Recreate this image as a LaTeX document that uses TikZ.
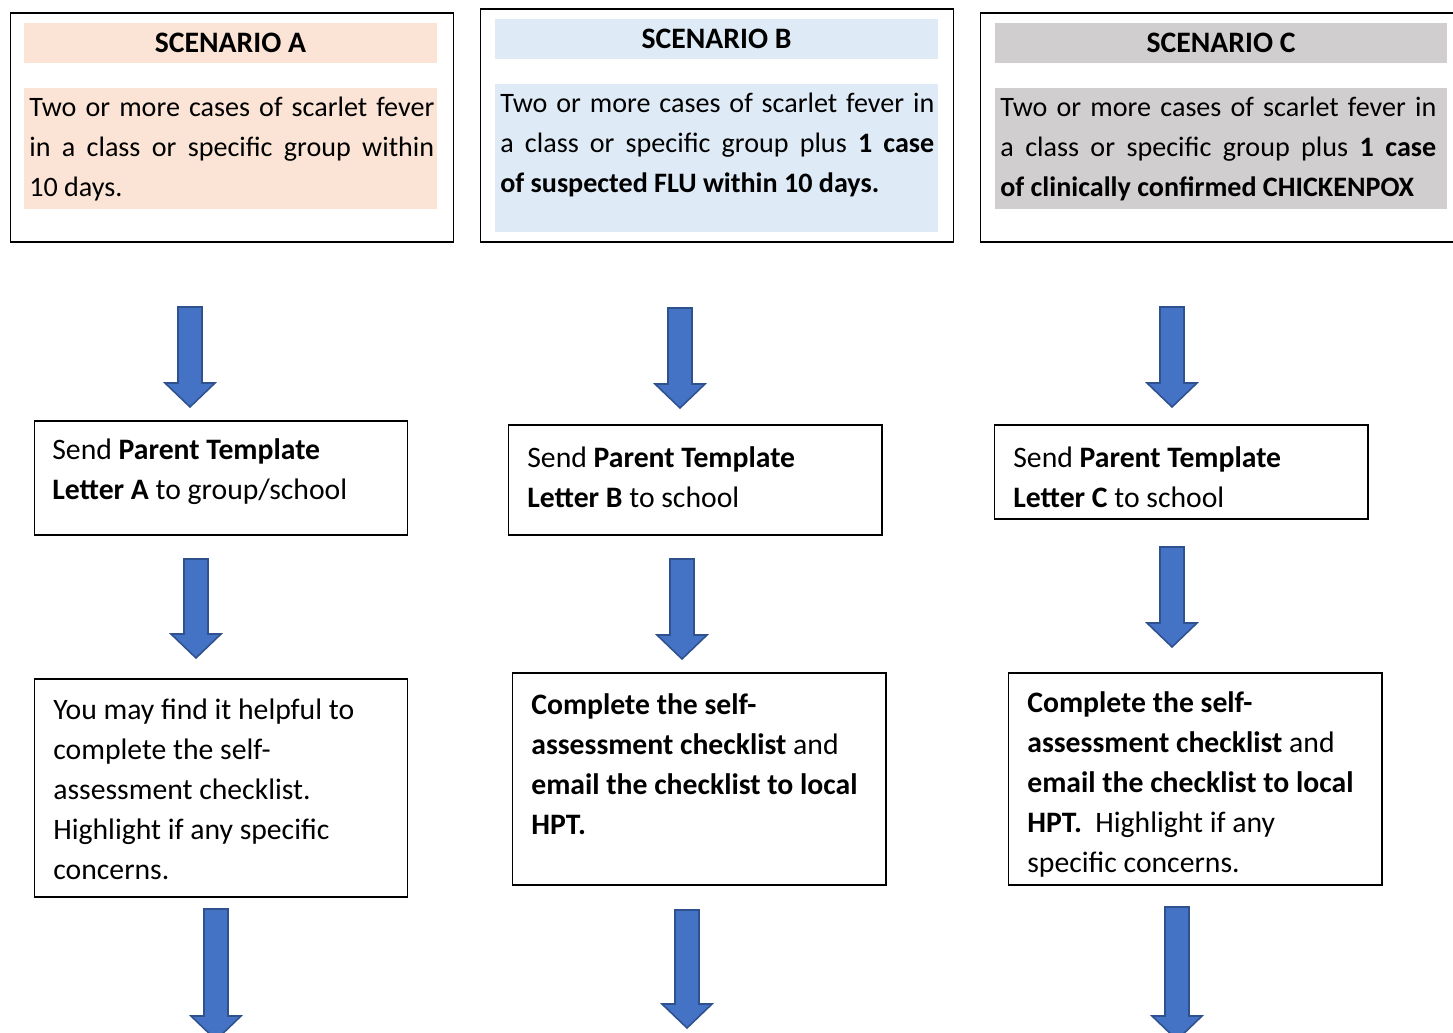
\documentclass[tikz,border=0pt]{standalone}
\usepackage{fontspec}
\setmainfont{Carlito}
\definecolor{peach}{HTML}{FBE4D5}
\definecolor{paleblue}{HTML}{DEEAF6}
\definecolor{palegrey}{HTML}{D0CECE}
\definecolor{arrowfill}{HTML}{4472C4}
\definecolor{arrowline}{HTML}{2F528F}
% block arrow: x, top, bottom
\newcommand{\flowarrow}[3]{%
	\draw[blockarrow] (#1-12,#2) -- (#1+12,#2) -- (#1+12,#3-24) -- (#1+25,#3-24)
		-- (#1,#3) -- (#1-25,#3-24) -- (#1-12,#3-24) -- cycle;}
\begin{document}
\begin{tikzpicture}[x=0.02cm,y=-0.02cm,
	font={\fontsize{16.9pt}{0.8cm}\selectfont},
	frame/.style={draw=black,line width=0.6pt},
	band/.style={inner sep=0pt,minimum height=0.8cm},
	shade/.style={inner sep=0pt},
	txt/.style={anchor=west,inner sep=0pt,align=left},
	cond/.style={anchor=west,inner sep=0pt,align=justify,
		font={\fontsize{16pt}{0.8cm}\selectfont\tolerance=9999\hyphenpenalty=10000}},
	blockarrow/.style={fill=arrowfill,draw=arrowline,line width=0.9pt,line join=miter}]
	\useasboundingbox (0,0) rectangle (1453,1033);

	% scenario boxes
	\node[frame,minimum width=8.88cm,minimum height=4.58cm] (boxA) at (232,127.5) {};
	\node[frame,minimum width=9.48cm,minimum height=4.66cm] (boxB) at (717,125.5) {};
	\node[frame,minimum width=10cm,minimum height=4.58cm] (boxC) at (1230,127.5) {};

	\node[band,fill=peach,minimum width=8.26cm] (hdrA) at (230.5,43) {\bfseries SCENARIO A};
	\node[band,fill=paleblue,minimum width=8.86cm] (hdrB) at (716.5,39) {\bfseries SCENARIO B};
	\node[band,fill=palegrey,minimum width=9.04cm] (hdrC) at (1221,43) {\bfseries SCENARIO C};

	\node[shade,fill=peach,minimum width=8.26cm,minimum height=2.42cm] (fillA) at (230.5,148.5) {};
	\node[shade,fill=paleblue,minimum width=8.86cm,minimum height=2.96cm] (fillB) at (716.5,158) {};
	\node[shade,fill=palegrey,minimum width=9.04cm,minimum height=2.42cm] (fillC) at (1221,148.5) {};

	\node[cond,text width=8.1cm] (condA) at (29,149) {%
		Two or more cases of scarlet fever\linebreak
		in a class or specific group within\linebreak
		10 days.};
	\node[cond,text width=8.68cm] (condB) at (500,145) {%
		Two or more cases of scarlet fever in\linebreak
		a class or specific group plus \textbf{1 case}\linebreak
		\textbf{of suspected FLU within 10 days.}};
	\node[cond,text width=8.72cm] (condC) at (1000,149) {%
		Two or more cases of scarlet fever in\linebreak
		a class or specific group plus \textbf{1 case}\linebreak
		\textbf{of clinically confirmed CHICKENPOX}};

	% letters
	\node[frame,minimum width=7.48cm,minimum height=2.28cm] (letA) at (221,478) {};
	\node[frame,minimum width=7.48cm,minimum height=2.2cm] (letB) at (695,480) {};
	\node[frame,minimum width=7.48cm,minimum height=1.88cm] (letC) at (1181,472) {};
	\node[txt] (letAtxt) at (52,472) {Send \textbf{Parent Template}\\\textbf{Letter A} to group/school};
	\node[txt] (letBtxt) at (527,477) {Send \textbf{Parent Template}\\\textbf{Letter B} to school};
	\node[txt] (letCtxt) at (1013,477) {Send \textbf{Parent Template}\\\textbf{Letter C} to school};

	% checklists
	\node[frame,minimum width=7.48cm,minimum height=4.36cm] (chkA) at (221,788) {};
	\node[frame,minimum width=7.48cm,minimum height=4.24cm] (chkB) at (699,779) {};
	\node[frame,minimum width=7.48cm,minimum height=4.24cm] (chkC) at (1195,779) {};
	\node[txt] (chkAtxt) at (53,789) {You may find it helpful to\\complete the self-\\assessment checklist.\\Highlight if any specific\\concerns.};
	\node[txt] (chkBtxt) at (531,764) {\textbf{Complete the self-}\\\textbf{assessment checklist} and\\\textbf{email the checklist to local}\\\textbf{HPT.}};
	\node[txt] (chkCtxt) at (1027,784) {\textbf{Complete the self-}\\\textbf{assessment checklist} and\\\textbf{email the checklist to local}\\\textbf{HPT.}\ \ Highlight if any\\specific concerns.};

	% arrows
	\flowarrow{190}{307}{407}
	\flowarrow{680}{308}{408}
	\flowarrow{1172}{307}{407}
	\flowarrow{196}{559}{658}
	\flowarrow{682}{559}{659}
	\flowarrow{1172}{547}{647}
	\flowarrow{216}{909}{1040}
	\flowarrow{687}{910}{1028}
	\flowarrow{1177}{907}{1040}
\end{tikzpicture}
\end{document}
